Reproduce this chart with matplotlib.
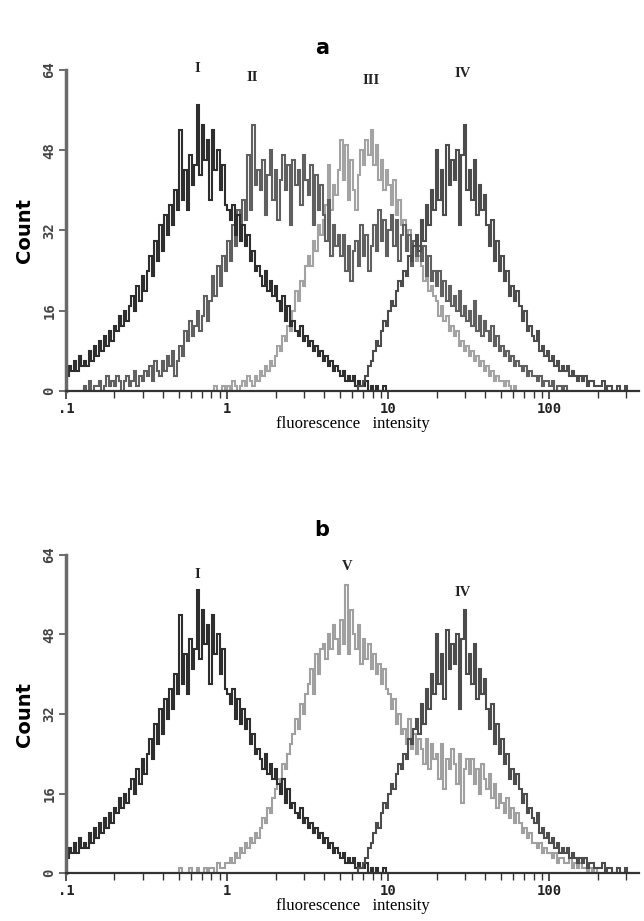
import numpy as np
import matplotlib
matplotlib.use("Agg")
import matplotlib.pyplot as plt

# ---- data: channel counts, 64 channels per decade starting at 0.1 ----
CH_PER_DECADE = 64
X_MIN = 0.1
X_MAX = 362

start_I = 0
counts_I = [3,5,4,6,4,7,5, 6,5,8,6,9,7, 10,8,11,9,12,10,13, 12,15,13,16,14,17,
            19,16,21,18,23,20,24, 27,23,30,26,33,28, 35,31,37,33,40,36,
            52,38,44,36,47,41,45, 57,43,53,46,50,38, 52,44,48,40,45,37,36,
            34,37,31,35,30,33, 29,31,26,28,24,25, 23,21,24,20,22,19,21,
            18,16,19,14,17,13, 14,12,11,13,10,11,9, 10,8,9,7,8,6,
            7,5,6,4,5,4, 3,4,2,3,2,3,1, 2,1,1,2,0,1, 0,1,0,0,1,0]

start_II = 6
counts_II = [0,1,0,2,0,1,1, 2,0,1,3,1,2, 1,3,2,0,2,3,1, 2,4,1,3,2,4,
             3,5,2,6,4,3, 6,4,7,5,8,3,6, 9,7,12,10,14,11, 13,16,12,15,19,14,18,
             23,19,25,21,27,24, 30,26,33,29,36,32, 38,34,47,36,53,41,44,
             40,46,35,43,48,38, 44,34,42,47,40,45,33, 46,41,44,37,47,42,
             39,45,33,43,36,41, 35,30,38,27,33,29,31, 27,31,24,29,22,28,
             30,25,33,27,31,24,29, 33,28,36,30,34,27, 32,35,29,34,26,31,
             33,28,31,25,30,27,29, 26,29,23,27,22,24, 21,24,19,22,18,21,17,
             19,16,20,15,17,14, 16,13,18,12,15,11,14, 12,10,13,9,11,8,
             9,7,8,6,7,5,6, 5,4,5,3,4,3, 3,2,3,1,2,2, 1,2,0,1,1,0,1]

start_III = 58
counts_III = [0,1,0,0,1,0, 1,0,2,1,0,1, 2,1,3,2,1,3,2, 4,3,5,4,6,5,
              7,9,8,11,10,13,12, 16,20,18,22,21,25, 27,25,30,28,33,31,
              34,37,45,36,41,39,44, 50,42,49,38,46,40, 36,43,48,45,50,47,52,
              45,49,42,46,40,44, 41,37,42,35,38,33, 34,30,32,28,29,26,27,
              25,22,23,20,21,19, 18,15,17,14,15,12,13, 11,12,9,10,8,9,
              7,8,6,7,5,6,4, 5,3,4,2,3,2, 2,1,2,1,0,1,0]

start_IV = 115
counts_IV = [0,1,1,2,3,5,6, 8,10,9,12,14,13, 16,18,17,20,22,21,
             24,23,27,26,29,31,28, 34,30,37,33,40,36, 48,38,44,35,49,41,46,
             42,48,33,47,53,40, 44,38,46,35,41,36,39, 33,29,34,26,30,24,
             27,22,24,19,21,18,20, 17,14,16,12,13,11, 10,12,8,9,7,8,
             6,7,5,6,4,5,4, 5,3,4,3,2,3, 2,3,1,2,2,1,1, 1,2,0,1,1,0, 0,1,0,0,1,0]

start_V = 45
counts_V = [1,0,0,0,1,0, 0,1,0,0,1,0,1, 1,0,2,1,1,2, 2,3,2,4,3,5,
            4,6,5,7,6,8,7, 9,11,10,13,12,15, 17,19,18,22,21,24,26,
            28,31,29,34,32,36, 38,41,36,44,40,45, 46,43,48,45,50,47,44,
            51,46,58,44,53,48, 45,50,42,47,43,46,41, 44,40,42,38,41,37,
            36,33,35,30,32,28, 29,26,31,25,28,24,27, 25,22,27,21,26,23,
            24,19,26,17,23,21,25, 22,18,24,14,21,23, 20,23,18,21,16,22,19,
            17,20,15,18,13,16, 14,12,15,11,13,10,12, 10,8,9,7,8,6,
            6,5,6,4,5,4, 4,3,4,2,3,3,2, 2,3,1,2,1,2, 1,1,0,1,0,1,0]

y_ticks = [0, 16, 32, 48, 64]
x_ticks = [0.1, 1, 10, 100]
x_ticklabels = [".1", "1", "10", "100"]

panel_a_series = [("III", start_III, counts_III, "#a3a3a3"),
                  ("II", start_II, counts_II, "#606060"),
                  ("I", start_I, counts_I, "#2e2e2e"),
                  ("IV", start_IV, counts_IV, "#4c4c4c")]
panel_b_series = [("V", start_V, counts_V, "#a0a0a0"),
                  ("I", start_I, counts_I, "#2e2e2e"),
                  ("IV", start_IV, counts_IV, "#4c4c4c")]

labels_a = [("I", 0.652, 64.3), ("II", 1.43, 62.5), ("III", 7.83, 62.0), ("IV", 28.9, 63.3)]
labels_b = [("I", 0.652, 60.0), ("V", 5.56, 61.6), ("IV", 28.9, 56.5)]


def edges(start, n):
    k = np.arange(start, start + n + 1)
    return X_MIN * 10 ** (k / CH_PER_DECADE)


fig = plt.figure(figsize=(6.44, 9.21), dpi=100)


def make_panel(rect, series, labels, title, title_y):
    ax = fig.add_axes(rect)
    for name, st, vals, col in series:
        ax.stairs(vals, edges(st, len(vals)), baseline=0, color=col, lw=1.5)
    ax.set_xscale("log")
    ax.set_xlim(X_MIN, X_MAX)
    ax.set_ylim(0, 64)
    ax.spines["top"].set_visible(False)
    ax.spines["right"].set_visible(False)
    ax.spines["left"].set_color("#6a6a6a")
    ax.spines["left"].set_linewidth(2.5)
    ax.spines["bottom"].set_color("#333333")
    ax.spines["bottom"].set_linewidth(1.6)
    ax.set_yticks(y_ticks)
    ax.set_yticklabels([str(v) for v in y_ticks], rotation=90, va="center",
                       family="DejaVu Sans Mono", fontweight="bold", fontsize=10, color="#444444")
    ax.set_xticks(x_ticks)
    ax.set_xticklabels(x_ticklabels, family="DejaVu Sans Mono",
                       fontweight="bold", fontsize=10, color="#222222")
    ax.xaxis.set_minor_locator(matplotlib.ticker.LogLocator(base=10, subs=np.arange(2, 10)))
    ax.xaxis.set_minor_formatter(matplotlib.ticker.NullFormatter())
    ax.tick_params(axis="x", which="major", direction="out", length=6, width=1.2, color="#333333", pad=2)
    ax.tick_params(axis="x", which="minor", direction="out", length=5, width=1.0, color="#333333")
    ax.tick_params(axis="y", direction="out", length=5, width=1.2, color="#555555", pad=2)
    ax.set_ylabel("Count", fontsize=14, fontweight="bold", family="DejaVu Sans", labelpad=6)
    ax.set_xlabel("fluorescence   intensity", family="Liberation Serif", fontsize=12, labelpad=0)
    for txt, x, y in labels:
        ax.text(x, y, txt, ha="center", va="center", family="Liberation Serif",
                fontweight="bold", fontsize=10.5, color="#222222", clip_on=False)
    fig.text(0.5, title_y, title, ha="center", va="center", fontsize=15,
             fontweight="bold", family="DejaVu Sans")
    return ax


make_panel([0.1025, 0.5755, 0.890, 0.3485], panel_a_series, labels_a, "a", 1 - 48 / 921)
make_panel([0.1025, 0.0521, 0.890, 0.3453], panel_b_series, labels_b, "b", 1 - 530 / 921)

fig.savefig("out.png", dpi=100)
